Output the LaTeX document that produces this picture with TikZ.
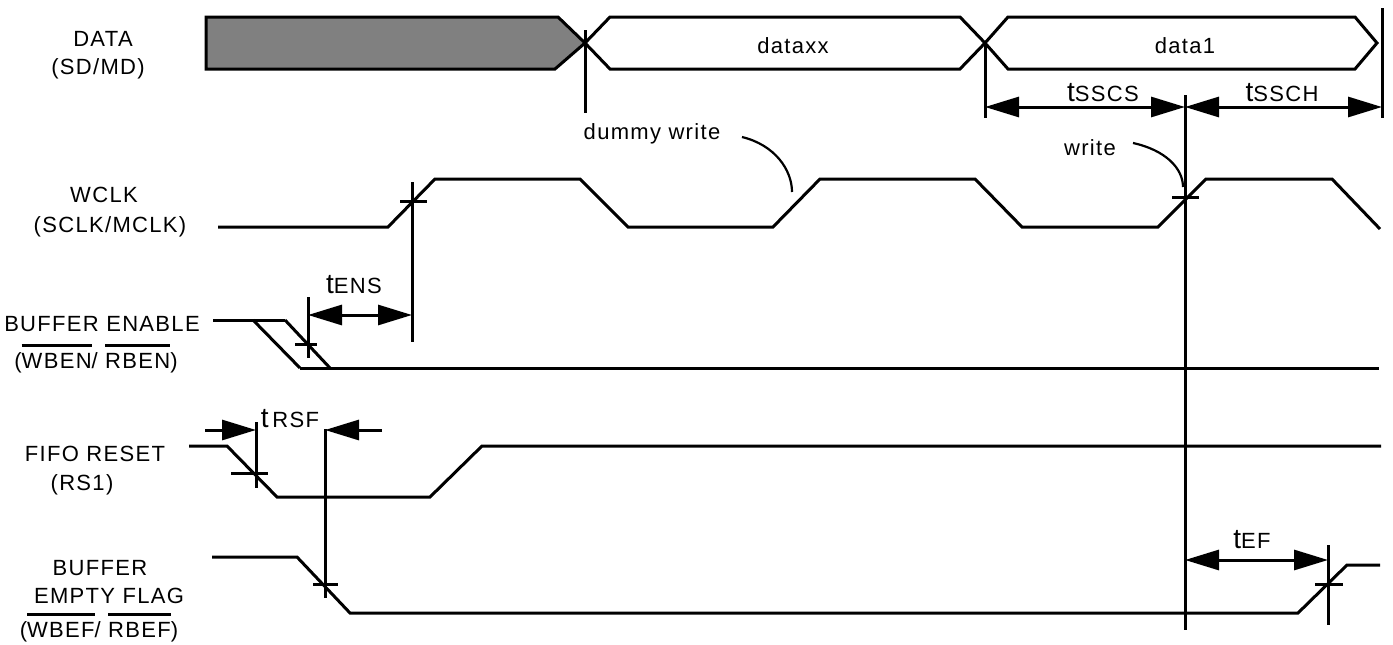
\documentclass[tikz,border=0pt]{standalone}
\usepackage{fontspec}
\setmainfont{Liberation Sans}[LetterSpace=6]
\usetikzlibrary{arrows.meta}
\newcommand{\myovl}[1]{{\setbox0=\hbox{#1}\rlap{\raisebox{21pt}{\rule{\wd0}{2.6pt}}}\box0}}
\newcommand{\tbig}{{\fontsize{28}{28}\selectfont t}}
\tikzset{
  sig/.style={line width=3pt, line join=miter},
  vline/.style={line width=3pt},
  dimarrow/.style={line width=3pt, {Triangle[length=34pt,width=20pt]}-{Triangle[length=34pt,width=20pt]}},
  onearrow/.style={line width=3pt, -{Triangle[length=34pt,width=20pt]}},
  lbl/.style={inner sep=0pt, anchor=base, font=\fontsize{22}{26}\selectfont},
  callout/.style={line width=2.2pt},
}
\begin{document}
\begin{tikzpicture}[x=1pt,y=-1pt]
\useasboundingbox (0,0) rectangle (1393,645);

% ---------- signal names ----------
\node[lbl] (ldata1) at (103,46) {DATA};
\node[lbl] (ldata2) at (98,74) {(SD/MD)};
\node[lbl] (lwclk1) at (104,202) {WCLK};
\node[lbl] (lwclk2) at (110,232) {(SCLK/MCLK)};
\node[lbl] (lben1) at (102,331) {BUFFER ENABLE};
\node[lbl] (lben2) at (96,368) {(\myovl{WBEN}/ \myovl{RBEN})};
\node[lbl] (lrs1) at (95,461) {FIFO RESET};
\node[lbl] (lrs2) at (82,490) {(RS1)};
\node[lbl] (lbef1) at (100,575) {BUFFER};
\node[lbl] (lbef2) at (109,603) {EMPTY FLAG};
\node[lbl] (lbef3) at (99,637) {(\myovl{WBEF}/ \myovl{RBEF})};

% ---------- data bus ----------
\fill[black!50] (206,17) -- (558,17) -- (585,43) -- (555,69) -- (206,69) -- cycle;
\draw[sig] (206,17) -- (558,17) -- (585,43) -- (555,69) -- (206,69) -- cycle;
\draw[sig] (585,43) -- (610,17) -- (960,17) -- (985,43) -- (960,69) -- (610,69) -- cycle;
\draw[sig] (985,43) -- (1008,17) -- (1355,17) -- (1377,43) -- (1355,69) -- (1008,69) -- cycle;
\node[lbl] (tdataxx) at (793,53) {dataxx};
\node[lbl] (tdata1) at (1185,53) {data1};

% ---------- reference verticals ----------
\coordinate (v1a) at (585,30);  \coordinate (v1b) at (585,113);
\coordinate (v2a) at (985,43);  \coordinate (v2b) at (985,118);
\coordinate (v3a) at (1382,8);  \coordinate (v3b) at (1382,118);
\coordinate (vwa) at (1185,95); \coordinate (vwb) at (1185,630);
\draw[vline] (v1a) -- (v1b);
\draw[vline] (v2a) -- (v2b);
\draw[vline] (v3a) -- (v3b);
\draw[vline] (vwa) -- (vwb);

% tSSCS / tSSCH
\coordinate (s1) at (985,107);
\coordinate (s2) at (1185,107);
\coordinate (s3) at (1382,107);
\draw[dimarrow] (s1) -- (s2);
\draw[dimarrow] (s2) -- (s3);
\node[lbl] (tsscs) at (1103,101) {\tbig SSCS};
\node[lbl] (tssch) at (1282,101) {\tbig SSCH};

% ---------- WCLK ----------
\draw[sig] (218,227) -- (388,227) -- (435,179) -- (580,179) -- (628,227) -- (773,227) -- (820,179)
  -- (975,179) -- (1022,227) -- (1158,227) -- (1206,179) -- (1332,179) -- (1380,229);
% first edge marker
\coordinate (e1a) at (412,182); \coordinate (e1b) at (412,342);
\draw[vline] (e1a) -- (e1b);
\draw[vline] (400,201) -- (427,201);
% write edge tick
\draw[vline] (1172,197) -- (1199,197);

\node[lbl] (tdummy) at (652,139) {dummy write};
\coordinate (cd1) at (742,137); \coordinate (cd2) at (792,192);
\draw[callout] (cd1) .. controls (775,145) and (792,170) .. (cd2);
\node[lbl] (twrite) at (1090,155) {write};
\coordinate (cw1) at (1133,143); \coordinate (cw2) at (1183,187);
\draw[callout] (cw1) .. controls (1165,150) and (1183,168) .. (cw2);

% ---------- BUFFER ENABLE ----------
\draw[sig] (213,320) -- (285,320);
\draw[sig] (253,320) -- (300,368);
\draw[sig] (285,320) -- (330,368);
\draw[sig] (300,368) -- (1379,368);
\coordinate (en1) at (308,297); \coordinate (en2) at (308,358);
\draw[vline] (en1) -- (en2);
\draw[vline] (295,344) -- (317,344);
\coordinate (ea) at (308,315); \coordinate (eb) at (412,315);
\draw[dimarrow] (ea) -- (eb);
\node[lbl] (tens) at (354,293) {\tbig ENS};

% ---------- FIFO RESET ----------
\draw[sig] (189,446) -- (227,446) -- (277,497) -- (430,497) -- (482,446) -- (1381,446);
\draw[vline] (256,422) -- (256,488);
\draw[vline] (231,473) -- (268,473);
\coordinate (r1) at (205,430); \coordinate (r1t) at (256,430);
\coordinate (r2) at (382,430); \coordinate (r2t) at (325,430);
\draw[onearrow] (r1) -- (r1t);
\draw[onearrow] (r2) -- (r2t);
\coordinate (rv1) at (325,429); \coordinate (rv2) at (325,598);
\draw[vline] (rv1) -- (rv2);
\node[lbl] (trsf) at (290,427) {\tbig\,RSF};

% ---------- BUFFER EMPTY FLAG ----------
\draw[sig] (212,557) -- (297,557) -- (350,613) -- (1298,613) -- (1347,565) -- (1380,565);
\draw[vline] (313,584) -- (338,584);
\coordinate (f1) at (1328,545); \coordinate (f2) at (1328,625);
\draw[vline] (f1) -- (f2);
\draw[vline] (1315,584) -- (1343,584);
\coordinate (fa) at (1185,560); \coordinate (fb) at (1328,560);
\draw[dimarrow] (fa) -- (fb);
\node[lbl] (tef) at (1252,548) {\tbig EF};
\end{tikzpicture}
\end{document}
